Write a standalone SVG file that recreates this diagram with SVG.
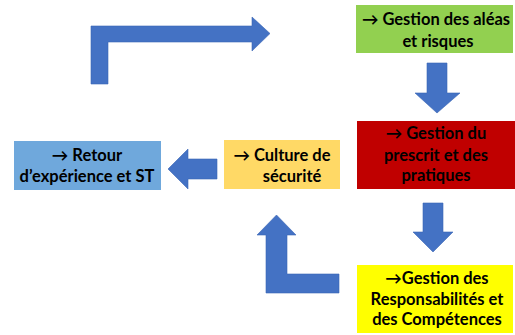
<svg xmlns="http://www.w3.org/2000/svg" width="515" height="335" viewBox="0 0 515 335">
<style>
.t{font-family:Lato,"Liberation Sans",sans-serif;font-weight:bold;font-size:16.5px;fill:#000;text-anchor:middle}
.a{fill:#4472C4;stroke:#3A66B5;stroke-width:0.6}
</style>
<rect width="515" height="335" fill="#fff"/>
<g id="connectors">
<path class="a" d="M91,84 V26 H252 V17 L270,33.5 L252,51 V42 H108 V84 Z"/>
<path class="a" d="M427,63 H447 V93 H460 L437,113 L415,93 H427 Z"/>
<path class="a" d="M217,159 V179 H188 V189 L168,169 L188,149 V159 Z"/>
<path class="a" d="M423,203 H443 V232 H453 L433,252 L413,232 H423 Z"/>
<path class="a" d="M339,274 V293 H266 V235 H257 L276.5,215 L296,235 H287 V274 Z"/>
</g>
<g id="gestion-aleas">
<rect x="356" y="5" width="157" height="48" fill="#92D050"/>
<text class="t" x="436" y="25">→ Gestion des aléas</text>
<text class="t" x="438" y="47">et risques</text>
</g>
<g id="retour">
<rect x="14" y="141" width="147" height="49" fill="#6FA8DC"/>
<text class="t" x="87" y="161">→ Retour</text>
<text class="t" x="87" y="182">d’expérience et ST</text>
</g>
<g id="culture">
<rect x="224" y="140" width="116" height="49" fill="#FFD966"/>
<text class="t" x="282" y="161">→ Culture de</text>
<text class="t" x="292" y="182">sécurité</text>
</g>
<g id="prescrit">
<rect x="357" y="121" width="158" height="68" fill="#C00000"/>
<text class="t" x="436" y="139">→ Gestion du</text>
<text class="t" x="436" y="161">prescrit et des</text>
<text class="t" x="436" y="181">pratiques</text>
</g>
<g id="responsabilites">
<rect x="357" y="265" width="156" height="68" fill="#FFFF00"/>
<text class="t" x="437" y="284">→Gestion des</text>
<text class="t" x="437" y="305">Responsabilités et</text>
<text class="t" x="437" y="325">des Compétences</text>
</g>
</svg>
